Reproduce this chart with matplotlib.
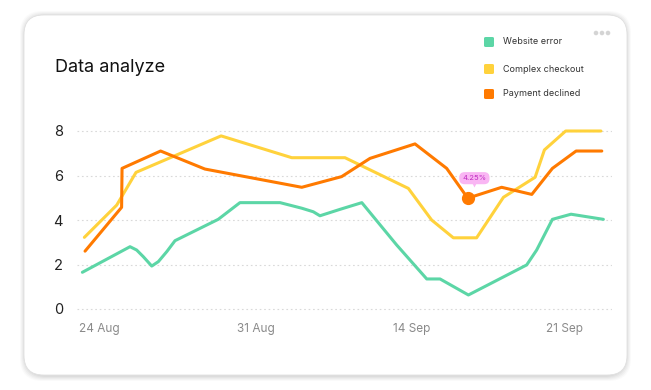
import matplotlib
matplotlib.use("Agg")
import matplotlib.pyplot as plt
from matplotlib.patches import FancyBboxPatch, Ellipse

plt.rcParams['font.family'] = ['Inter', 'DejaVu Sans']

# ---- data (x in day-index units, tick at 0 = 24 Aug) ----
tick_pos = [0, 7.1, 14.1, 21]
tick_labels = ['24 Aug', '31 Aug', '14 Sep', '21 Sep']
y_ticks = [0, 2, 4, 6, 8]

web_x = [-0.75, 1.40, 1.70, 2.00, 2.38, 2.68, 3.06, 3.43, 5.38, 6.36, 8.17, 9.15,
         9.67, 9.97, 10.88, 11.86, 13.43, 14.79, 15.39, 16.67, 19.30, 19.75, 20.46,
         21.30, 22.76]
web_y = [1.65, 2.80, 2.65, 2.35, 1.93, 2.13, 2.58, 3.07, 4.03, 4.78, 4.78, 4.53,
         4.37, 4.19, 4.48, 4.78, 2.88, 1.35, 1.35, 0.63, 1.98, 2.65, 4.03,
         4.26, 4.03]

chk_x = [-0.66, 0.80, 1.67, 5.51, 8.70, 11.10, 13.96, 15.01, 15.99, 17.04, 18.25,
         19.68, 20.10, 21.06, 22.65]
chk_y = [3.22, 4.67, 6.14, 7.78, 6.80, 6.80, 5.42, 4.00, 3.20, 3.20, 5.02,
         5.92, 7.15, 8.00, 8.00]

pay_x = [-0.63, 1.02, 1.04, 2.78, 4.78, 9.15, 10.95, 12.23, 14.26, 15.69, 16.64,
         18.17, 19.53, 20.46, 21.53, 22.69]
pay_y = [2.60, 4.57, 6.32, 7.10, 6.29, 5.47, 5.95, 6.77, 7.42, 6.32, 4.98,
         5.47, 5.15, 6.32, 7.10, 7.10]

series_names = ['Website error', 'Complex checkout', 'Payment declined']
colors = ['#5cd6a6', '#ffd23c', '#ff7a00']

hl_x, hl_y, hl_label = 16.64, 4.98, '4.25%'

# ---- figure & card ----
W, H = 651, 390
fig = plt.figure(figsize=(W / 100, H / 100), dpi=100)
fig.patch.set_facecolor('white')

def fx(px):
    return px / W

def fy(py):
    return 1 - py / H

cl, ct, cr, cb = 24, 15, 627, 375
for i, a in enumerate([0.04, 0.05, 0.06, 0.07, 0.08]):
    g = 5 - i
    sh = FancyBboxPatch((fx(cl - g + 1), fy(cb + g + 1)), fx(cr - cl + 2 * g - 2),
                        (cb - ct + 2 * g) / H,
                        boxstyle="round,pad=0,rounding_size=0.035",
                        transform=fig.transFigure, fc='#808080', ec='none', alpha=a,
                        mutation_aspect=W / H, zorder=0)
    fig.patches.append(sh)
card = FancyBboxPatch((fx(cl), fy(cb)), fx(cr - cl), (cb - ct) / H,
                      boxstyle="round,pad=0,rounding_size=0.03",
                      transform=fig.transFigure, fc='white', ec='#e0e0e0', lw=0.6,
                      mutation_aspect=W / H, zorder=1)
fig.patches.append(card)

# ---- axes ----
ax_l, ax_r, ax_t, ax_b = 77, 612, 122, 316
ax = fig.add_axes([fx(ax_l), fy(ax_b), fx(ax_r - ax_l), (ax_b - ax_t) / H])
ax.set_facecolor('none')
ax.set_zorder(2)

for x, y, c, n in zip([web_x, chk_x, pay_x], [web_y, chk_y, pay_y], colors, series_names):
    ax.plot(x, y, color=c, lw=2.2, solid_joinstyle='round', solid_capstyle='round',
            label=n, zorder=3)

ax.plot([hl_x], [hl_y], 'o', color=colors[2], ms=8.5, zorder=4)
# tooltip pointer + bubble
ax.plot([hl_x + 0.3], [hl_y + 0.62], marker='v', ms=4, color='#f9b6f3', mec='none', zorder=5)
ax.annotate(hl_label, xy=(hl_x, hl_y), xytext=(hl_x + 0.3, hl_y + 0.9),
            ha='center', va='center', fontsize=5.5, color='#c02cc0',
            bbox=dict(boxstyle='round,pad=0.4,rounding_size=0.7', fc='#f9b6f3', ec='none'),
            zorder=6)

xmin = (ax_l - 99) / 22.16
xmax = (ax_r - 99) / 22.16
ax.set_xlim(xmin, xmax)
ymin = (309 - ax_b) / 22.25
ymax = (309 - ax_t) / 22.25
ax.set_ylim(ymin, ymax)

ax.set_yticks(y_ticks)
ax.set_xticks(tick_pos)
ax.set_xticklabels(tick_labels)
ax.tick_params(axis='y', length=0, pad=10, labelsize=10.5, labelcolor='#222222')
ax.tick_params(axis='x', length=0, pad=5, labelsize=8.5, labelcolor='#8a8a8a')
for s in ax.spines.values():
    s.set_visible(False)
ax.yaxis.grid(True, color='#d9d9d9', lw=0.8, ls=(0, (1.5, 2.5)))
ax.xaxis.grid(False)
ax.set_axisbelow(True)

# ---- title ----
fig.text(fx(55), fy(67), 'Data analyze', fontsize=13, color='#111111',
         ha='left', va='center', zorder=5)

# ---- legend ----
leg_y = [42, 69, 94]
for n, c, yy in zip(series_names, colors, leg_y):
    sq = FancyBboxPatch((fx(484), fy(yy + 5)), fx(10), 10 / H,
                        boxstyle="round,pad=0,rounding_size=0.003",
                        transform=fig.transFigure, fc=c, ec='none', zorder=5)
    fig.patches.append(sq)
    fig.text(fx(503), fy(yy), n, fontsize=6.5, color='#333333', ha='left',
             va='center', zorder=5)

# ---- menu dots ----
for dx in [596, 602, 608]:
    fig.patches.append(Ellipse((fx(dx), fy(33)), 4.6 / W, 4.6 / H,
                               transform=fig.transFigure,
                               fc='#d4d4d4', ec='none', zorder=5))

fig.savefig('out.png', dpi=100, facecolor='white')
